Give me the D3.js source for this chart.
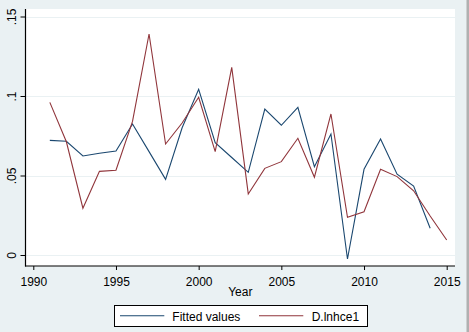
<!DOCTYPE html>
<html>
<head>
<meta charset="utf-8">
<script src="https://cdn.jsdelivr.net/npm/d3@7"></script>
<style>
  html, body { margin: 0; padding: 0; background: #eaf1f3; }
  svg { display: block; }
  text { font-family: "Liberation Sans", Arial, sans-serif; font-size: 12px; fill: #000; }
</style>
</head>
<body>
<svg id="chart" width="469" height="332"></svg>
<script>
// ---- data ----
const years = [1991,1992,1993,1994,1995,1996,1997,1998,1999,2000,2001,2002,2003,
               2004,2005,2006,2007,2008,2009,2010,2011,2012,2013,2014,2015];
const fittedValues = [0.0721,0.0715,0.0623,0.0640,0.0654,0.0824,0.0650,0.0476,0.0800,0.1042,
                      0.0706,0.0613,0.0520,0.0918,0.0816,0.0929,0.0555,0.0761,-0.0025,0.0539,
                      0.0730,0.0508,0.0434,0.0168,null];
const dLnhce1 = [0.0960,0.0712,0.0294,0.0526,0.0533,0.0840,0.1390,0.0698,0.0830,0.0992,
                 0.0650,0.1180,0.0384,0.0545,0.0587,0.0734,0.0489,0.0887,0.0237,0.0272,
                 0.0539,0.0493,0.0404,0.0245,0.0094];
const xTicks = [1990,1995,2000,2005,2010,2015];
const yTicks = [0,0.05,0.1,0.15];
const yTickLabels = ["0",".05",".1",".15"];
const seriesNames = ["Fitted values","D.lnhce1"];
const seriesColors = ["#1a476f","#90353b"];
const xTitle = "Year";

// ---- layout ----
const svg = d3.select("#chart");
const W = 469, H = 332;
const plot = {left: 25.5, right: 455, top: 9, bottom: 266};

svg.append("rect").attr("width", W).attr("height", H).attr("fill", "#eaf1f3");
svg.append("rect").attr("x", 466.5).attr("y", 0).attr("width", 2.5).attr("height", H).attr("fill", "#b0b0b0");

const x = d3.scaleLinear().domain([1990, 2015]).range([33.3, 446.7]);
const y = d3.scaleLinear().domain([0, 0.15]).range([255, 16.5]);

// plot region
svg.append("rect")
  .attr("x", plot.left).attr("y", plot.top)
  .attr("width", plot.right - plot.left).attr("height", plot.bottom - plot.top)
  .attr("fill", "#ffffff");

// gridlines
svg.append("g").selectAll("line").data(yTicks).join("line")
  .attr("x1", plot.left).attr("x2", plot.right)
  .attr("y1", d => Math.round(y(d)) + 0.5).attr("y2", d => Math.round(y(d)) + 0.5)
  .attr("stroke", "#eaf1f3").attr("stroke-width", 1);

// lines
const seriesData = [fittedValues, dLnhce1];
const line = d3.line()
  .defined(d => d[1] !== null)
  .x(d => x(d[0])).y(d => y(d[1]));
seriesData.forEach((vals, i) => {
  svg.append("path")
    .datum(years.map((yr, j) => [yr, vals[j]]))
    .attr("d", line)
    .attr("fill", "none")
    .attr("stroke", seriesColors[i])
    .attr("stroke-width", 1.1)
    .attr("stroke-linejoin", "miter");
});

// y axis
const yAxis = d3.axisLeft(y).tickValues(yTicks)
  .tickFormat((d, i) => yTickLabels[i]).tickSize(5).tickSizeOuter(0);
const gy = svg.append("g").attr("transform", `translate(${plot.left},0)`).call(yAxis);
gy.select(".domain").remove();
gy.selectAll(".tick line").attr("stroke", "#000");
gy.selectAll(".tick text")
  .attr("x", 0).attr("dy", null).attr("y", 0)
  .attr("text-anchor", "middle")
  .attr("transform", "translate(-10,0) rotate(-90)")
  .style("font-family", '"Liberation Sans", Arial, sans-serif').style("font-size", "12px").attr("fill", "#000");
svg.append("line")
  .attr("x1", plot.left).attr("x2", plot.left)
  .attr("y1", plot.top + 0).attr("y2", plot.bottom + 0.5)
  .attr("stroke", "#000").attr("stroke-width", 1.2);

// x axis
const xAxis = d3.axisBottom(x).tickValues(xTicks).tickFormat(d3.format("d")).tickSize(4).tickSizeOuter(0);
const gx = svg.append("g").attr("transform", `translate(0,${plot.bottom})`).call(xAxis);
gx.select(".domain").remove();
gx.selectAll(".tick line").attr("stroke", "#000");
gx.selectAll(".tick text")
  .attr("y", 19.5).attr("dy", null)
  .style("font-family", '"Liberation Sans", Arial, sans-serif').style("font-size", "12px").attr("fill", "#000");
svg.append("line")
  .attr("x1", plot.left - 0.5).attr("x2", plot.right)
  .attr("y1", plot.bottom).attr("y2", plot.bottom)
  .attr("stroke", "#000").attr("stroke-width", 1.2);

// x title
svg.append("text")
  .attr("x", (plot.left + plot.right) / 2).attr("y", 295.7)
  .attr("text-anchor", "middle").text(xTitle);

// legend
const lg = svg.append("g");
lg.append("rect")
  .attr("x", 114.5).attr("y", 305.5).attr("width", 253).attr("height", 21)
  .attr("fill", "#ffffff").attr("stroke", "#000").attr("stroke-width", 1);
const legendItems = [
  {x1: 120, x2: 164.3, tx: 172.3},
  {x1: 259, x2: 303.3, tx: 311.7}
];
legendItems.forEach((it, i) => {
  lg.append("line")
    .attr("x1", it.x1).attr("x2", it.x2).attr("y1", 315.7).attr("y2", 315.7)
    .attr("stroke", seriesColors[i]).attr("stroke-width", 1.1);
  lg.append("text").attr("x", it.tx).attr("y", 320.7).text(seriesNames[i]);
});
</script>
</body>
</html>
